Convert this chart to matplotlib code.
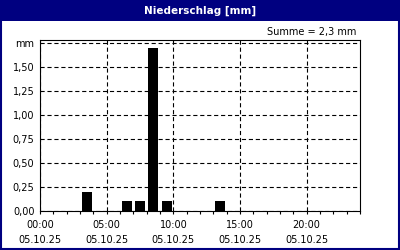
import matplotlib
matplotlib.use("Agg")
import matplotlib.pyplot as plt
from matplotlib.patches import Rectangle
from matplotlib.ticker import MultipleLocator

# hourly precipitation (hour of day -> mm)
hours = [3, 6, 7, 8, 9, 13]
precip = [0.2, 0.1, 0.1, 1.7, 0.1, 0.1]
date_label = "05.10.25"
major_hours = [0, 5, 10, 15, 20]
y_ticks = [0.0, 0.25, 0.5, 0.75, 1.0, 1.25, 1.5, 1.75]

navy = "#000080"
plt.rcParams['font.family'] = ['DejaVu Sans']
plt.rcParams['lines.scale_dashes'] = False

fig = plt.figure(figsize=(4, 2.5), dpi=100)
fig.patch.set_facecolor("white")

# title bar and frame
fig.patches.append(Rectangle((0, 0.918), 1, 0.082, transform=fig.transFigure,
                             facecolor=navy, edgecolor="none", zorder=0))
fig.patches.append(Rectangle((0.002, 0.004), 0.996, 0.994, transform=fig.transFigure,
                             facecolor="none", edgecolor=navy, linewidth=1.5, zorder=5))
fig.text(0.5, 0.958, "Niederschlag [mm]", color="white", fontsize=7.5,
         fontweight="bold", ha="center", va="center")

ax = fig.add_axes([0.1, 0.156, 0.8, 0.684])
ax.bar([h + 0.5 for h in hours], precip, width=0.75, color="black", zorder=3)

ax.set_xlim(0, 24)
ax.set_ylim(0, 1.78)
ax.set_xticks(major_hours)
ax.set_xticklabels([f"{h:02d}:00\n{date_label}" for h in major_hours],
                   fontsize=7, linespacing=1.65)
ax.xaxis.set_minor_locator(MultipleLocator(1))
ax.set_yticks(y_ticks)
ax.set_yticklabels([f"{v:.2f}".replace(".", ",") for v in y_ticks[:-1]] + ["mm"], fontsize=7)

ax.tick_params(axis="x", which="both", direction="out", length=2.5, width=0.8, pad=4)
ax.tick_params(axis="y", length=0, pad=4)
ax.grid(True, axis="both", color="black", linestyle=(0, (3, 2)), linewidth=0.8, zorder=1)
for sp in ax.spines.values():
    sp.set_linewidth(0.8)
    sp.set_color("black")

total = sum(precip)
fig.text(0.89, 0.872, f"Summe = {total:.1f} mm".replace(".", ","), fontsize=7,
         ha="right", va="center")

fig.savefig("out.png", dpi=100)
